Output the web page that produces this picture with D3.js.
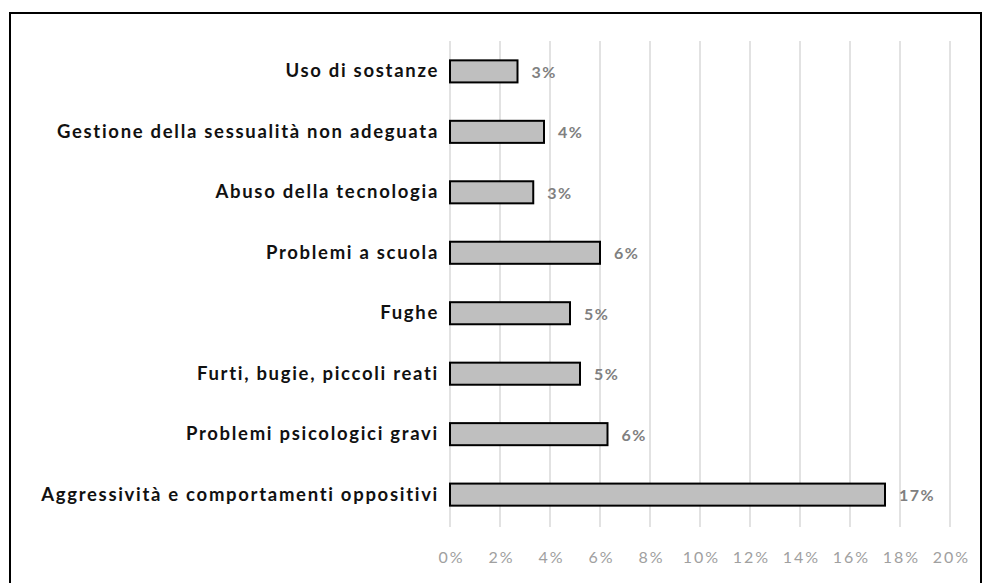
<!DOCTYPE html>
<html>
<head>
<meta charset="utf-8">
<script src="https://cdn.jsdelivr.net/npm/d3@7"></script>
<style>
body { margin: 0; background: #fff; }
.axis text { font-family: Lato, "Open Sans", sans-serif; }
</style>
</head>
<body>
<div class="chart"></div>
<script>
const categories = [
  "Uso di sostanze",
  "Gestione della sessualità non adeguata",
  "Abuso della tecnologia",
  "Problemi a scuola",
  "Fughe",
  "Furti, bugie, piccoli reati",
  "Problemi psicologici gravi",
  "Aggressività e comportamenti oppositivi"
];
const values = [2.7, 3.76, 3.33, 6.0, 4.8, 5.2, 6.3, 17.4];
const ticks = [0, 2, 4, 6, 8, 10, 12, 14, 16, 18, 20];

const width = 984, height = 583;
const margin = ({top: 41, right: 34, bottom: 58, left: 450});

const svg = d3.select(".chart").append("svg")
  .attr("width", width)
  .attr("height", height);

// outer frame
svg.append("rect")
  .attr("x", 10).attr("y", 13)
  .attr("width", 971).attr("height", 580)
  .attr("fill", "none")
  .attr("stroke", "#000")
  .attr("stroke-width", 2);

const xScale = d3.scaleLinear()
  .domain([0, 20])
  .range([margin.left, width - margin.right]);

const yScale = d3.scaleBand()
  .domain(categories)
  .range([margin.top, height - margin.bottom])
  .paddingInner(0.635)
  .paddingOuter(0.32);

// gridlines
svg.append("g")
  .selectAll("line")
  .data(ticks)
  .join("line")
  .attr("x1", d => xScale(d))
  .attr("x2", d => xScale(d))
  .attr("y1", margin.top)
  .attr("y2", height - margin.bottom + 2)
  .attr("stroke", "#d9d9d9")
  .attr("stroke-width", 1.5);

// x axis labels
const xAxis = d3.axisBottom(xScale)
  .tickValues(ticks)
  .tickFormat(d => d + "%")
  .tickSize(0)
  .tickPadding(0);

svg.append("g")
  .attr("class", "axis x-axis")
  .attr("transform", "translate(0," + (height - margin.bottom + 38) + ")")
  .call(xAxis)
  .call(g => g.select(".domain").remove())
  .selectAll("text")
  .attr("fill", "#a0a0a0")
  .attr("font-size", 16)
  .attr("letter-spacing", 2)
  .attr("dx", 1)
  .attr("dy", "0");

// category labels
const yAxis = d3.axisLeft(yScale)
  .tickSize(0)
  .tickPadding(11);

svg.append("g")
  .attr("class", "axis y-axis")
  .attr("transform", "translate(" + margin.left + ",0)")
  .call(yAxis)
  .call(g => g.select(".domain").remove())
  .selectAll("text")
  .attr("fill", "#111")
  .attr("font-size", 18.5)
  .attr("font-weight", "bold")
  .attr("letter-spacing", 1.7);

// bars
svg.append("g")
  .selectAll("rect")
  .data(values)
  .join("rect")
  .attr("x", xScale(0))
  .attr("y", (d, i) => yScale(categories[i]))
  .attr("width", d => xScale(d) - xScale(0))
  .attr("height", yScale.bandwidth())
  .attr("fill", "#bfbfbf")
  .attr("stroke", "#000")
  .attr("stroke-width", 2);

// value labels
svg.append("g")
  .selectAll("text")
  .data(values)
  .join("text")
  .attr("x", d => xScale(d) + 14)
  .attr("y", (d, i) => yScale(categories[i]) + yScale.bandwidth() / 2)
  .attr("dy", "0.4em")
  .attr("font-family", "Lato, 'Open Sans', sans-serif")
  .attr("font-size", 16)
  .attr("font-weight", "bold")
  .attr("letter-spacing", 1.5)
  .attr("fill", "#808080")
  .text(d => Math.round(d) + "%");
</script>
</body>
</html>
